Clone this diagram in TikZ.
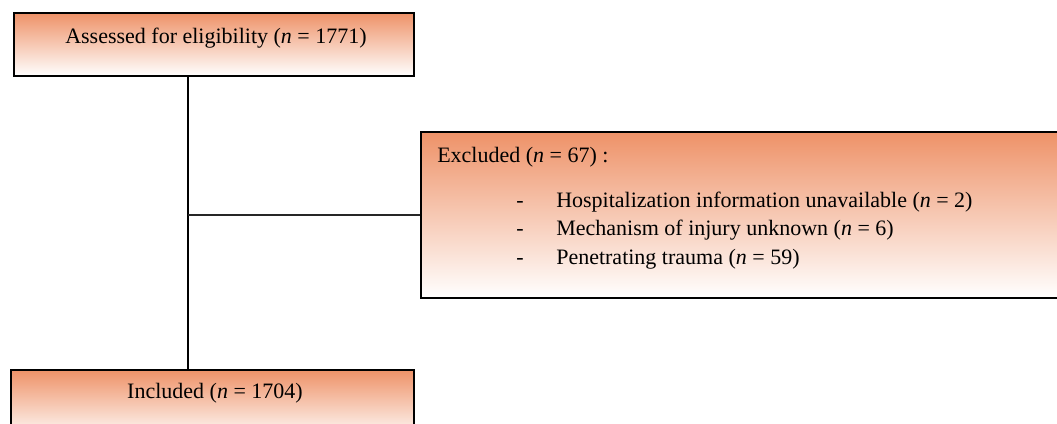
\documentclass[tikz,border=0pt]{standalone}
\usepackage{fontspec}
\setmainfont{Liberation Serif}
\definecolor{boxorange}{RGB}{238,146,104}
\begin{document}
\begin{tikzpicture}[x=0.75pt,y=-0.75pt,
  flowbox/.style={draw=black, line width=1.5pt, top color=boxorange, bottom color=white, inner sep=0pt, anchor=north west},
  txt/.style={inner sep=0pt, font=\fontsize{16.5}{20}\selectfont},
  link/.style={draw=black, line width=1.5pt},
  thinlink/.style={draw=black!85, line width=0.8pt}]
\useasboundingbox (0,0) rectangle (1057,424);
\clip (0,0) rectangle (1057,424);
% boxes
\node[flowbox, minimum width=400*0.75pt, minimum height=63*0.75pt] (assess) at (13,12) {};
\node[flowbox, minimum width=650*0.75pt, minimum height=166*0.75pt] (excl) at (420,131) {};
\node[flowbox, minimum width=403*0.75pt, minimum height=70*0.75pt] (incl) at (10,369) {};
% texts
\node[txt, anchor=base] (t1) at (216,44) {Assessed for eligibility (\textit{n} = 1771)};
\node[txt, anchor=base west] (t2) at (437,163) {Excluded (\textit{n} = 67) :};
\node[txt, anchor=base west] (d1) at (516,208) {-};
\node[txt, anchor=base west] (d2) at (516,236) {-};
\node[txt, anchor=base west] (d3) at (516,264) {-};
\node[txt, anchor=base west] (l1) at (556,208) {Hospitalization information unavailable (\textit{n} = 2)};
\node[txt, anchor=base west] (l2) at (556,236) {Mechanism of injury unknown (\textit{n} = 6)};
\node[txt, anchor=base west] (l3) at (556,264) {Penetrating trauma (\textit{n} = 59)};
\node[txt, anchor=base] (t3) at (215,398) {Included (\textit{n} = 1704)};
% connectors
\coordinate (vtop) at (188,75);
\coordinate (vbot) at (188,369);
\coordinate (junc) at (188,215);
\draw[link] (assess.south -| vtop) -- (incl.north -| vbot);
\draw[thinlink] (junc) -- (excl.west |- junc);
\end{tikzpicture}
\end{document}
